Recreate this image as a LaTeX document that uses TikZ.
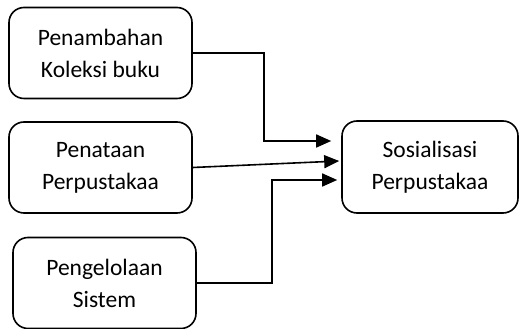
\documentclass[tikz,border=0pt]{standalone}
\usepackage{fontspec}
\setmainfont{Carlito}
\usetikzlibrary{arrows.meta, positioning, calc}

\begin{document}
\begin{tikzpicture}[x=1pt, y=1pt,
    kotak/.style={draw, line width=1.6pt, rounded corners=15pt, align=center,
        minimum width=183pt, minimum height=91pt, inner sep=0pt,
        font=\fontsize{23.5}{32}\selectfont},
    panah/.style={line width=1.6pt, -{Triangle[length=15pt, width=13pt]}}]
\useasboundingbox (0,0) rectangle (519,329);
% Boxes
\node[kotak] (koleksi) at (100.5,276) {Penambahan\\Koleksi buku};
\node[kotak] (penataan) at (100.5,161.5) {Penataan\\Perpustakaa};
\node[kotak] (sistem) at (104.5,46) {Pengelolaan\\Sistem};
\node[kotak, minimum width=176pt, minimum height=92pt] (sosial) at (430,162) {Sosialisasi\\Perpustakaa};
% Arrow ends
\coordinate (t1) at ($(sosial.west)+(-10,26)$);
\coordinate (t2) at ($(sosial.west)+(-2,6)$);
\coordinate (t3) at ($(sosial.west)+(-4,-13)$);
% Connectors
\draw[panah] (koleksi.east) -- (264,276) |- (t1);
\draw[panah] (penataan.east) -- (t2);
\draw[panah] (sistem.east) -- (272,46) |- (t3);
\end{tikzpicture}
\end{document}
